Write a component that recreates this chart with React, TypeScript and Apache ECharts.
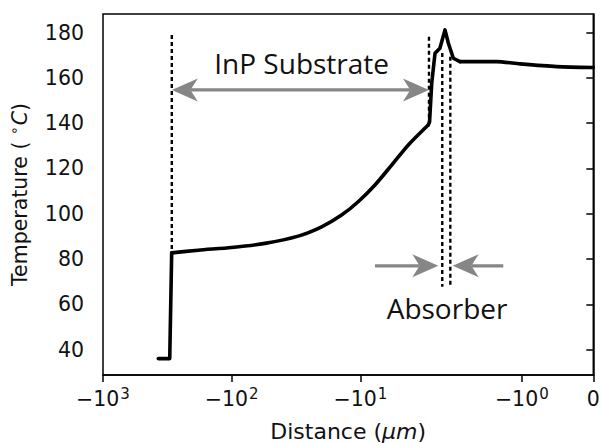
import React, { useEffect, useRef } from "react";
import * as echarts from "echarts";

// ---- data (distance in µm, temperature in °C) ----
const distance = [
  -372, -303, -292.6, -181.8, -100, -55.1, -30.4, -20.0, -14.0, -10.4, -7.7,
  -5.71, -4.24, -2.97, -2.9, -2.79, -2.63, -2.41, -2.2, -2.07, -1.958, -1.865,
  -1.351, -1.025, -0.512, 0,
];
const temperature = [
  36, 36, 82.7, 83.9, 85.1, 86.9, 90.1, 94.2, 99.4, 105.3, 112.7, 121.5, 130.4,
  139.2, 140.5, 157.6, 170.9, 173.1, 181.2, 175.3, 168.7, 167.2, 167.2, 166.2,
  165.0, 164.6,
];

// dotted layer boundaries
const boundaryX = [-292, -2.93, -2.31, -2.0];
const boundaryTop = [179, 178.2, 171, 169.4];
const boundaryBottom = [83, 140, 67.7, 67.7];

// annotation arrows
const arrowStart = [-292, -7.7, -1.259];
const arrowEnd = [-2.93, -2.48, -1.967];
const arrowY = [154.7, 77, 77];
const arrowBothEnds = [true, false, false];

// annotation texts
const noteText = ["InP Substrate", "Absorber"];
const noteX = [-28.6, -2.12];
const noteY = [166.8, 58.4];

// axes
const xTickValues = [-1000, -100, -10, -1, 0];
const xTickBase = ["−10", "−10", "−10", "−10", "0"];
const xTickExp = ["3", "2", "1", "0", ""];
const yTickValues = [40, 60, 80, 100, 120, 140, 160, 180];
const yMin = 28.75;
const yMax = 188.25;

// symmetric log transform (base 10, linthresh 2, linscale 1)
const LT = 2;
const LS = 1 / (1 - 1 / 10);
const symlog = (x: number) => {
  const a = Math.abs(x);
  return a <= LT ? x * LS : Math.sign(x) * LT * (LS + Math.log10(a / LT));
};

const GRAY = "#868686";
const TXT = "#111";

// pieces of the profile: [startIndex, endIndex, smooth]
const pieces: [number, number, boolean][] = [
  [0, 2, false],
  [2, 13, true],
  [13, 21, false],
  [21, 25, true],
];

export default function App() {
  const ref = useRef<HTMLDivElement>(null);
  useEffect(() => {
    document.body.style.margin = "0";
    const chart = echarts.init(ref.current!, null, { renderer: "svg" });

    const dottedSeries = boundaryX.map((bx, i) => ({
      type: "line",
      data: [
        [symlog(bx), boundaryTop[i]],
        [symlog(bx), boundaryBottom[i]],
      ],
      symbol: "none",
      lineStyle: { color: "#000", width: 2.4, type: [4, 3] },
      z: 2,
    }));

    const profileSeries = pieces.map(([a, b, sm]) => ({
      type: "line",
      data: distance.slice(a, b + 1).map((d, k) => [symlog(d), temperature[a + k]]),
      symbol: "none",
      smooth: sm ? 0.25 : false,
      lineStyle: { color: "#000", width: 3.6, join: "round", cap: "round" },
      z: 3,
    }));

    const option: any = {
      animation: false,
      textStyle: { fontFamily: "DejaVu Sans" },
      grid: {
        left: 103,
        right: 8.7,
        top: 14,
        bottom: 68,
        show: true,
        borderColor: "#000",
        borderWidth: 1.5,
        outerBoundsMode: "none",
      },
      xAxis: {
        type: "value",
        min: symlog(-1000),
        max: 0,
        splitLine: { show: false },
        axisLine: { show: true, lineStyle: { color: "#000", width: 1.5 } },
        axisTick: {
          show: true,
          customValues: xTickValues.map(symlog),
          length: 7,
          lineStyle: { color: "#000", width: 1.5 },
        },
        axisLabel: {
          customValues: xTickValues.map(symlog),
          showMinLabel: true,
          showMaxLabel: true,
          margin: 12,
          formatter: (v: number) => {
            const i = xTickValues.findIndex((t) => Math.abs(symlog(t) - v) < 1e-6);
            if (i < 0) return "";
            return xTickExp[i]
              ? `{b|${xTickBase[i]}}{s|${xTickExp[i]}}`
              : `{b|${xTickBase[i]}}`;
          },
          rich: {
            b: { fontSize: 20.5, fontFamily: "DejaVu Sans", color: TXT, lineHeight: 22, verticalAlign: "bottom" },
            s: { fontSize: 15, fontFamily: "DejaVu Sans", color: TXT, lineHeight: 15, padding: [0, 0, 8, 1], verticalAlign: "bottom" },
          },
        },
        name: "{a|Distance (}{i|μm}{a|)}",
        nameLocation: "middle",
        nameGap: 45,
        nameTextStyle: {
          rich: {
            a: { fontSize: 22, fontFamily: "DejaVu Sans", color: TXT },
            i: { fontSize: 22, fontFamily: "DejaVu Sans", fontStyle: "italic", color: TXT },
          },
        },
      },
      yAxis: {
        type: "value",
        min: yMin,
        max: yMax,
        splitLine: { show: false },
        axisLine: { show: true, lineStyle: { color: "#000", width: 1.5 } },
        axisTick: {
          show: true,
          customValues: yTickValues,
          length: 7,
          lineStyle: { color: "#000", width: 1.5 },
        },
        axisLabel: {
          customValues: yTickValues,
          margin: 19,
          fontSize: 20.5,
          fontFamily: "DejaVu Sans",
          color: TXT,
        },
        name: "{a|Temperature ( }{s|∘}{i|C}{a|)}",
        nameLocation: "middle",
        nameGap: 73,
        nameTextStyle: {
          rich: {
            a: { fontSize: 20.5, fontFamily: "DejaVu Sans", color: TXT, lineHeight: 22, verticalAlign: "bottom" },
            s: { fontSize: 14, fontFamily: "DejaVu Sans", color: TXT, lineHeight: 14, padding: [0, 1, 9, 0], verticalAlign: "bottom" },
            i: { fontSize: 20.5, fontFamily: "DejaVu Sans", fontStyle: "italic", color: TXT, lineHeight: 22, verticalAlign: "bottom" },
          },
        },
      },
      series: [
        ...dottedSeries,
        ...profileSeries,
        {
          type: "custom",
          data: arrowStart.map((s, i) => [symlog(s), symlog(arrowEnd[i]), arrowY[i]]),
          encode: { x: [0, 1], y: 2 },
          z: 4,
          renderItem: (params: any, api: any) => {
            const i = params.dataIndex;
            const p1 = api.coord([api.value(0), api.value(2)]);
            const p2 = api.coord([api.value(1), api.value(2)]);
            const dx = p2[0] - p1[0];
            const dy = p2[1] - p1[1];
            const len = Math.hypot(dx, dy);
            const ux = dx / len;
            const uy = dy / len;
            const nx = -uy;
            const ny = ux;
            const L = 26;
            const W = 11.5;
            const head = (tip: number[], dir: number) => ({
              type: "polygon",
              shape: {
                points: [
                  tip,
                  [tip[0] - dir * L * ux + W * nx, tip[1] - dir * L * uy + W * ny],
                  [tip[0] - dir * 0.72 * L * ux, tip[1] - dir * 0.72 * L * uy],
                  [tip[0] - dir * L * ux - W * nx, tip[1] - dir * L * uy - W * ny],
                ],
              },
              style: { fill: GRAY },
            });
            const s0 = arrowBothEnds[i]
              ? [p1[0] + 0.72 * L * ux, p1[1] + 0.72 * L * uy]
              : p1;
            const s1 = [p2[0] - 0.72 * L * ux, p2[1] - 0.72 * L * uy];
            const children: any[] = [
              {
                type: "line",
                shape: { x1: s0[0], y1: s0[1], x2: s1[0], y2: s1[1] },
                style: { stroke: GRAY, lineWidth: 3.2 },
              },
              head(p2, 1),
            ];
            if (arrowBothEnds[i]) children.push(head(p1, -1));
            return { type: "group", children };
          },
        },
        {
          type: "custom",
          data: noteX.map((x, i) => [symlog(x), noteY[i]]),
          encode: { x: 0, y: 1 },
          z: 5,
          renderItem: (params: any, api: any) => {
            const p = api.coord([api.value(0), api.value(1)]);
            return {
              type: "text",
              x: p[0],
              y: p[1],
              style: {
                text: noteText[params.dataIndex],
                fontSize: 28,
                fontFamily: "Open Sans",
                fill: "#111",
                align: "center",
                verticalAlign: "middle",
              },
            };
          },
        },
      ],
    };
    chart.setOption(option);
    return () => chart.dispose();
  }, []);
  return (
    <div
      ref={ref}
      style={{ position: "absolute", left: 0, top: 0, width: 602, height: 443 }}
    />
  );
}
